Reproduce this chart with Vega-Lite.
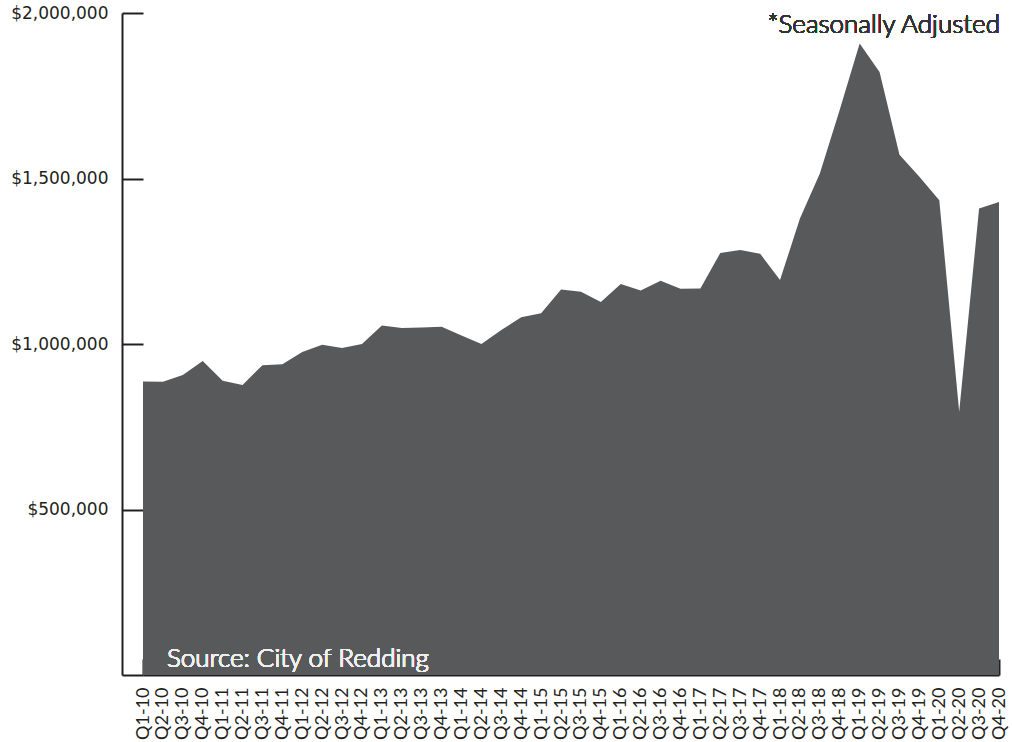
{
  "$schema": "https://vega.github.io/schema/vega-lite/v6.json",
  "width": 856,
  "height": 662,
  "padding": {"left": 10, "top": 4, "right": 5, "bottom": 0},
  "background": "white",
  "config": {"view": {"stroke": null}},
  "data": {"values": [
    {"q": "Q1-10", "v": 887000}, {"q": "Q2-10", "v": 886000}, {"q": "Q3-10", "v": 906000}, {"q": "Q4-10", "v": 949000},
    {"q": "Q1-11", "v": 889000}, {"q": "Q2-11", "v": 876000}, {"q": "Q3-11", "v": 936000}, {"q": "Q4-11", "v": 939000},
    {"q": "Q1-12", "v": 976000}, {"q": "Q2-12", "v": 998000}, {"q": "Q3-12", "v": 988000}, {"q": "Q4-12", "v": 1000000},
    {"q": "Q1-13", "v": 1056000}, {"q": "Q2-13", "v": 1048000}, {"q": "Q3-13", "v": 1050000}, {"q": "Q4-13", "v": 1052000},
    {"q": "Q1-14", "v": 1026000}, {"q": "Q2-14", "v": 1000000}, {"q": "Q3-14", "v": 1042000}, {"q": "Q4-14", "v": 1081000},
    {"q": "Q1-15", "v": 1093000}, {"q": "Q2-15", "v": 1165000}, {"q": "Q3-15", "v": 1158000}, {"q": "Q4-15", "v": 1127000},
    {"q": "Q1-16", "v": 1181000}, {"q": "Q2-16", "v": 1162000}, {"q": "Q3-16", "v": 1191000}, {"q": "Q4-16", "v": 1167000},
    {"q": "Q1-17", "v": 1168000}, {"q": "Q2-17", "v": 1275000}, {"q": "Q3-17", "v": 1284000}, {"q": "Q4-17", "v": 1273000},
    {"q": "Q1-18", "v": 1193000}, {"q": "Q2-18", "v": 1379000}, {"q": "Q3-18", "v": 1515000}, {"q": "Q4-18", "v": 1708000},
    {"q": "Q1-19", "v": 1908000}, {"q": "Q2-19", "v": 1822000}, {"q": "Q3-19", "v": 1572000}, {"q": "Q4-19", "v": 1505000},
    {"q": "Q1-20", "v": 1434000}, {"q": "Q2-20", "v": 795000}, {"q": "Q3-20", "v": 1409000}, {"q": "Q4-20", "v": 1429000}
  ]},
  "encoding": {
    "x": {
      "field": "q", "type": "ordinal", "sort": null, "title": null,
      "scale": {"type": "point", "padding": 0},
      "axis": {
        "labelAngle": -90, "labelFont": "Lato", "labelFontSize": 18, "labelColor": "#231f20",
        "labelPadding": 28, "domainColor": "#231f20", "domainWidth": 2, "tickColor": "#231f20",
        "tickWidth": 2, "tickSize": -16, "labelOverlap": false
      }
    },
    "y": {
      "field": "v", "type": "quantitative", "title": null,
      "scale": {"domain": [0, 2000000], "nice": false},
      "axis": {
        "values": [0, 500000, 1000000, 1500000, 2000000],
        "labelExpr": "datum.value == 0 ? '' : format(datum.value, '$,.0f')",
        "offset": 21, "tickSize": -21, "tickWidth": 2, "tickColor": "#231f20",
        "domainColor": "#231f20", "domainWidth": 2, "grid": false,
        "labelFont": "DejaVu Sans", "labelFontSize": 17, "labelColor": "#231f20", "labelPadding": 35
      }
    }
  },
  "layer": [
    {"mark": {"type": "area", "color": "#58595b", "opacity": 1}},
    {
      "mark": {"type": "text", "align": "left", "baseline": "alphabetic", "dx": 4, "dy": -8, "font": "Lato", "fontWeight": 300, "fontSize": 26, "color": "#f0f0f0"},
      "encoding": {"x": {"datum": "Q2-10"}, "y": {"datum": 0}, "text": {"value": "Source: City of Redding"}}
    },
    {
      "mark": {"type": "text", "align": "right", "baseline": "alphabetic", "dx": 1, "dy": 20, "font": "Lato", "fontWeight": 300, "fontSize": 26, "color": "#333333"},
      "encoding": {"x": {"datum": "Q4-20"}, "y": {"datum": 2000000}, "text": {"value": "*Seasonally Adjusted"}}
    }
  ]
}
